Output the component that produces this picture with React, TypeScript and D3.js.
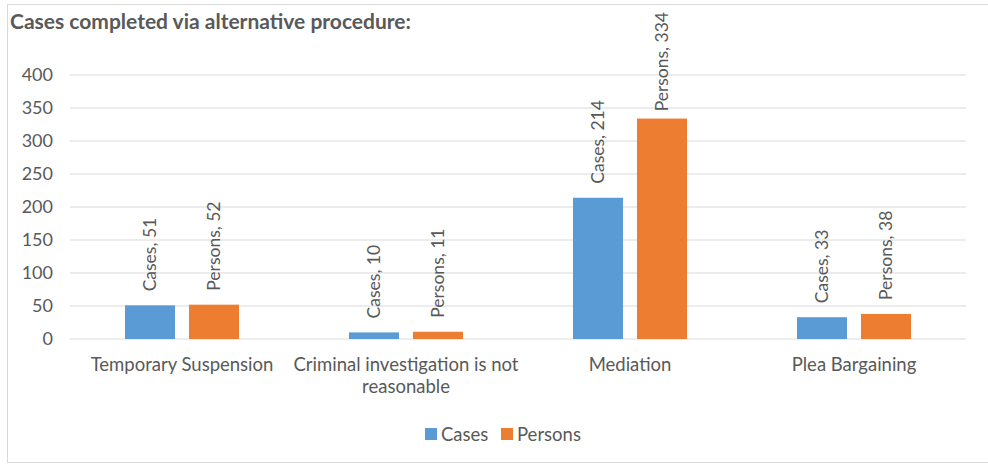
import React from 'react';
import * as d3 from 'd3';

const categories = ['Temporary Suspension', 'Criminal investigation is not reasonable', 'Mediation', 'Plea Bargaining'];
const categoryLines = [['Temporary Suspension'], ['Criminal investigation is not', 'reasonable'], ['Mediation'], ['Plea Bargaining']];
const seriesNames = ['Cases', 'Persons'];
const casesValues = [51, 10, 214, 33];
const personsValues = [52, 11, 334, 38];
const yTicks = [0, 50, 100, 150, 200, 250, 300, 350, 400];
const colors = ['#5B9BD5', '#ED7D31'];

const W = 988;
const H = 464;
const FONT = 'Lato, "Open Sans", sans-serif';
const TEXT = '#595959';
const LABEL_SIZE = 17.5;

export default function App() {
  const margin = { left: 70, right: 22, top: 75, bottom: 125 };
  const x = d3.scaleBand<string>().domain(categories).range([margin.left, W - margin.right]);
  const y = d3.scaleLinear().domain([0, 400]).range([H - margin.bottom, margin.top]);
  const series = [casesValues, personsValues];
  const barW = 50;
  const gap = 14;

  return (
    <div style={{ position: 'absolute', left: 0, top: 0, width: W, height: H, background: '#fff', overflow: 'hidden' }}>
      <svg width={W} height={H} style={{ display: 'block', fontFamily: FONT }}>
        <rect x={7.5} y={4.5} width={1000} height={458} fill="#fff" stroke="#D9D9D9" />
        <text x={10} y={29} fontSize={21} fontWeight="bold" fill={TEXT}>
          Cases completed via alternative procedure:
        </text>

        {/* gridlines + y ticks */}
        {yTicks.map(t => (
          <g key={t}>
            <line x1={margin.left} x2={W - margin.right} y1={y(t)} y2={y(t)} stroke="#D9D9D9" strokeWidth={1} />
            <text x={53} y={y(t)} dy="0.35em" textAnchor="end" fontSize={18} fill={TEXT}>{t}</text>
          </g>
        ))}

        {/* bars + labels */}
        {categories.map((c, i) => {
          const cx = (x(c) ?? 0) + x.bandwidth() / 2;
          return (
            <g key={c}>
              {series.map((vals, s) => {
                const bx = cx + (s === 0 ? -gap / 2 - barW : gap / 2);
                const by = y(vals[i]);
                const lx = bx + barW / 2;
                const label = `${seriesNames[s]}, ${vals[i]}`;
                const estLen = label.length * LABEL_SIZE * 0.5;
                // keep label inside the chart area, like Excel does
                const clamp = by - 14 - estLen < 12;
                return (
                  <g key={s}>
                    <rect x={bx} y={by} width={barW} height={y(0) - by} fill={colors[s]} />
                    <text
                      transform={`translate(${lx},${clamp ? 12 : by - 14}) rotate(-90)`}
                      dy="0.35em"
                      textAnchor={clamp ? 'end' : 'start'}
                      fontSize={LABEL_SIZE}
                      fill={TEXT}
                    >
                      {label}
                    </text>
                  </g>
                );
              })}
              {categoryLines[i].map((line, k) => (
                <text key={k} x={cx} y={371 + k * 22} textAnchor="middle" fontSize={18.5} fill={TEXT}>{line}</text>
              ))}
            </g>
          );
        })}

        {/* legend */}
        {seriesNames.map((n, s) => {
          const lx = s === 0 ? 425 : 501;
          return (
            <g key={n}>
              <rect x={lx} y={428} width={12} height={12} fill={colors[s]} />
              <text x={lx + 16} y={441} fontSize={18.5} fill={TEXT}>{n}</text>
            </g>
          );
        })}
      </svg>
    </div>
  );
}
